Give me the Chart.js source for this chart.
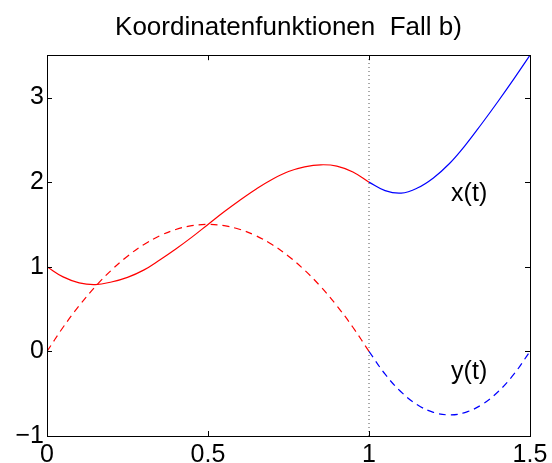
<!DOCTYPE html>
<html>
<head>
<meta charset="utf-8">
<script src="https://cdn.jsdelivr.net/npm/chart.js@4.4.1/dist/chart.umd.min.js"></script>
<style>
  html, body { margin: 0; padding: 0; background: #fff; }
  #wrap { width: 552px; height: 463px; }
</style>
</head>
<body>
<div id="wrap"><canvas id="chart1"></canvas></div>
<script>
// parameter t, first segment [0,1] and second segment [1,1.5]
const t1 = [0, 0.05, 0.1, 0.15, 0.2, 0.25, 0.3, 0.35, 0.4, 0.45, 0.5,
            0.55, 0.6, 0.65, 0.7, 0.75, 0.8, 0.85, 0.9, 0.95, 1]
const x1 = [1.00, 0.88, 0.81, 0.79, 0.82, 0.875, 0.96, 1.08, 1.21, 1.35, 1.50,
            1.65, 1.79, 1.92, 2.035, 2.125, 2.18, 2.205, 2.19, 2.12, 2.00]
const y1 = [0, 0.285, 0.54, 0.765, 0.96, 1.125, 1.26, 1.365, 1.44, 1.485, 1.50,
            1.485, 1.44, 1.365, 1.26, 1.125, 0.96, 0.765, 0.54, 0.285, 0]

const t2 = [1, 1.05, 1.1, 1.15, 1.2, 1.25, 1.3, 1.35, 1.4, 1.45, 1.5]
const x2 = [2.00, 1.90, 1.87, 1.93, 2.05, 2.22, 2.44, 2.69, 2.95, 3.22, 3.50]
const y2 = [0, -0.27, -0.48, -0.63, -0.72, -0.75, -0.72, -0.63, -0.48, -0.27, 0]

const xTicks = [0, 0.5, 1, 1.5]
const yTicks = [-1, 0, 1, 2, 3]
const marker = [1, 1]          // dotted line at t = 1
const markerY = [-1, 3.5]

// curve labels: [text, t, value]
const curveLabels = [['x(t)', 1.255, 1.86], ['y(t)', 1.255, -0.25]]

const FONT = '"Liberation Sans", Arial, Helvetica, sans-serif'

function pts(xs, ys) {
  return xs.map((v, i) => ({x: v, y: ys[i]}))
}

function fmt(v) {
  return String(v).replace('-', '\u2212')
}

// box around the plot, inward tick marks on all four sides, curve labels
const matlabBox = {
  id: 'matlabBox',
  afterDatasetsDraw(chart) {
    const ctx = chart.ctx
    const a = chart.chartArea
    const sx = chart.scales.x
    const sy = chart.scales.y
    const len = 5
    ctx.save()
    ctx.strokeStyle = '#000'
    ctx.lineWidth = 1
    ctx.beginPath()
    xTicks.forEach(v => {
      const px = Math.round(sx.getPixelForValue(v)) + 0.5
      ctx.moveTo(px, a.bottom); ctx.lineTo(px, a.bottom - len)
      ctx.moveTo(px, a.top); ctx.lineTo(px, a.top + len)
    })
    yTicks.forEach(v => {
      const py = Math.round(sy.getPixelForValue(v)) + 0.5
      ctx.moveTo(a.left, py); ctx.lineTo(a.left + len, py)
      ctx.moveTo(a.right, py); ctx.lineTo(a.right - len, py)
    })
    ctx.stroke()
    ctx.strokeRect(Math.round(a.left) + 0.5, Math.round(a.top) + 0.5,
                   Math.round(a.right - a.left), Math.round(a.bottom - a.top))

    ctx.fillStyle = '#000'
    ctx.font = '25px ' + FONT
    ctx.textAlign = 'left'
    ctx.textBaseline = 'middle'
    curveLabels.forEach(([txt, tx, ty]) => {
      ctx.fillText(txt, sx.getPixelForValue(tx), sy.getPixelForValue(ty))
    })
    ctx.restore()
  }
}

const ctx1 = document.getElementById('chart1').getContext('2d')
const chart1 = new Chart(ctx1, {
  type: 'line',
  data: {
    datasets: [
      {
        label: 'marker',
        data: pts(marker, markerY),
        borderColor: '#555',
        borderWidth: 1,
        borderDash: [1, 3],
        pointRadius: 0,
        tension: 0
      },
      {
        label: 'x(t) a',
        data: pts(t1, x1),
        borderColor: 'rgb(255, 0, 0)',
        borderWidth: 1.2,
        pointRadius: 0,
        tension: 0.4
      },
      {
        label: 'y(t) a',
        data: pts(t1, y1),
        borderColor: 'rgb(255, 0, 0)',
        borderWidth: 1.2,
        borderDash: [7, 5],
        pointRadius: 0,
        tension: 0.4
      },
      {
        label: 'x(t) b',
        data: pts(t2, x2),
        borderColor: 'rgb(0, 0, 255)',
        borderWidth: 1.2,
        pointRadius: 0,
        tension: 0.4
      },
      {
        label: 'y(t) b',
        data: pts(t2, y2),
        borderColor: 'rgb(0, 0, 255)',
        borderWidth: 1.2,
        borderDash: [7, 5],
        pointRadius: 0,
        tension: 0.4
      }
    ]
  },
  options: {
    responsive: true,
    maintainAspectRatio: false,
    animation: false,
    layout: { padding: { top: 0, right: 22, bottom: 0, left: 0 } },
    scales: {
      x: {
        type: 'linear',
        min: 0,
        max: 1.5,
        afterBuildTicks: s => { s.ticks = xTicks.map(v => ({value: v})) },
        afterFit: s => { s.height = 27 },
        grid: { display: false, drawTicks: false },
        border: { display: false },
        ticks: {
          color: '#000',
          padding: 4,
          maxRotation: 0,
          font: { family: FONT, size: 25 },
          callback: v => fmt(v)
        }
      },
      y: {
        type: 'linear',
        min: -1,
        max: 3.5,
        afterBuildTicks: s => { s.ticks = yTicks.map(v => ({value: v})) },
        afterFit: s => { s.width = 47 },
        grid: { display: false, drawTicks: false },
        border: { display: false },
        ticks: {
          color: '#000',
          padding: 3,
          font: { family: FONT, size: 25 },
          callback: v => fmt(v)
        }
      }
    },
    plugins: {
      legend: { display: false },
      tooltip: { enabled: false },
      title: {
        display: true,
        fullSize: false,   // centre the title over the plot box
        text: 'Koordinatenfunktionen  Fall b)',
        color: '#000',
        font: { family: FONT, size: 26, weight: 'normal' },
        padding: { top: 12, bottom: 12 }
      }
    }
  },
  plugins: [matlabBox]
})
</script>
</body>
</html>
